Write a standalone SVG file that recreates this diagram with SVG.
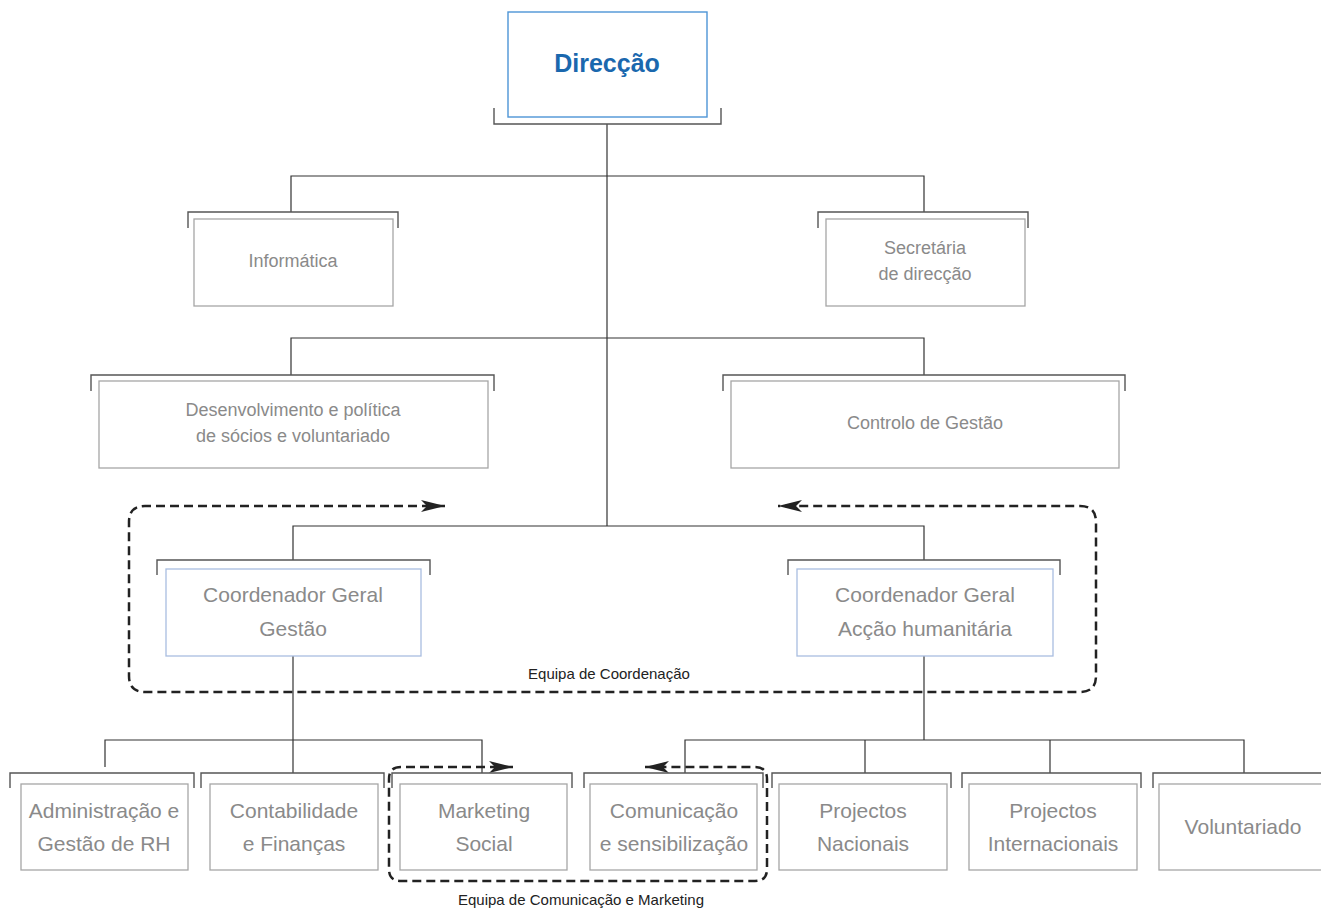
<svg xmlns="http://www.w3.org/2000/svg" width="1321" height="911" viewBox="0 0 1321 911">
<style>
.box{fill:#fff;stroke:#a6a6a6;stroke-width:1.3}
.cbox{fill:#fff;stroke:#a9bde0;stroke-width:1.3}
.br{fill:none;stroke:#555;stroke-width:1.4}
.ln{fill:none;stroke:#333;stroke-width:1.2}
.dash{fill:none;stroke:#222;stroke-width:2.5;stroke-dasharray:9 5}
text{font-family:"Liberation Sans",Arial,sans-serif;text-anchor:middle}
.t{fill:#8a8a8a;font-size:18px}
.tc{fill:#8a8a8a;font-size:21px}
.tb{fill:#8a8a8a;font-size:21px}
.lab{fill:#222;font-size:15px}
</style>
<defs>
<marker id="ah" markerUnits="userSpaceOnUse" markerWidth="26" markerHeight="14" refX="24" refY="6" orient="auto-start-reverse">
<path d="M0,0 L24,6 L0,12 L6,6 Z" fill="#222"/>
</marker>
</defs>
<g id="connectors">
<path class="ln" d="M607 124 V526"/>
<path class="ln" d="M291 212 V176 H924 V212"/>
<path class="ln" d="M291 375 V338 H924 V375"/>
<path class="ln" d="M293 560 V526 H924 V560"/>
<path class="ln" d="M293 656 V773"/>
<path class="ln" d="M105 767 V740 H482 V773"/>
<path class="ln" d="M924 656 V740"/>
<path class="ln" d="M685 773 V740 H1244 V773"/>
<path class="ln" d="M865 740 V773"/>
<path class="ln" d="M1050 740 V773"/>
<path class="dash" d="M445 506 H145 Q129 506 129 522 V676 Q129 692 145 692 H1080 Q1096 692 1096 676 V522 Q1096 506 1080 506 H778" marker-start="url(#ah)" marker-end="url(#ah)"/>
<path class="dash" d="M513 767 H401 Q389 767 389 779 V869 Q389 881 401 881 H755 Q767 881 767 869 V779 Q767 767 755 767 H645" marker-start="url(#ah)" marker-end="url(#ah)"/>
</g>
<g id="direccao">
<path class="br" d="M494 108 V124 H721 V108"/>
<rect x="508" y="12" width="199" height="105" fill="#fff" stroke="#4d95d6" stroke-width="1.4"/>
<text x="607" y="72" font-size="25" font-weight="bold" fill="#1a68ae">Direcção</text>
</g>
<g id="informatica">
<path class="br" d="M188 228 V212 H398 V228"/>
<rect class="box" x="194" y="219" width="199" height="87"/>
<text class="t" x="293" y="267">Informática</text>
</g>
<g id="secretaria">
<path class="br" d="M818 228 V212 H1028 V228"/>
<rect class="box" x="826" y="219" width="199" height="87"/>
<text class="t" x="925" y="254">Secretária</text>
<text class="t" x="925" y="280">de direcção</text>
</g>
<g id="desenvolvimento">
<path class="br" d="M91 391 V375 H494 V391"/>
<rect class="box" x="99" y="381" width="389" height="87"/>
<text class="t" x="293" y="416">Desenvolvimento e política</text>
<text class="t" x="293" y="442">de sócios e voluntariado</text>
</g>
<g id="controlo">
<path class="br" d="M723 391 V375 H1125 V391"/>
<rect class="box" x="731" y="381" width="388" height="87"/>
<text class="t" x="925" y="429">Controlo de Gestão</text>
</g>
<g id="coord-gestao">
<path class="br" d="M157 575 V560 H430 V575"/>
<rect class="cbox" x="166" y="569" width="255" height="87"/>
<text class="tc" x="293" y="602">Coordenador Geral</text>
<text class="tc" x="293" y="636">Gestão</text>
</g>
<g id="coord-accao">
<path class="br" d="M788 575 V560 H1060 V575"/>
<rect class="cbox" x="797" y="569" width="256" height="87"/>
<text class="tc" x="925" y="602">Coordenador Geral</text>
<text class="tc" x="925" y="636">Acção humanitária</text>
</g>
<g id="admin">
<path class="br" d="M10 788 V773 H194 V788"/>
<rect class="box" x="21" y="784" width="167" height="86"/>
<text class="tb" x="104" y="818">Administração e</text>
<text class="tb" x="104" y="851">Gestão de RH</text>
</g>
<g id="contabilidade">
<path class="br" d="M201 788 V773 H384 V788"/>
<rect class="box" x="210" y="784" width="168" height="86"/>
<text class="tb" x="294" y="818">Contabilidade</text>
<text class="tb" x="294" y="851">e Finanças</text>
</g>
<g id="marketing">
<path class="br" d="M392 788 V773 H572 V788"/>
<rect class="box" x="400" y="784" width="167" height="86"/>
<text class="tb" x="484" y="818">Marketing</text>
<text class="tb" x="484" y="851">Social</text>
</g>
<g id="comunicacao">
<path class="br" d="M584 788 V773 H763 V788"/>
<rect class="box" x="590" y="784" width="167" height="86"/>
<text class="tb" x="674" y="818">Comunicação</text>
<text class="tb" x="674" y="851">e sensibilização</text>
</g>
<g id="projectos-nacionais">
<path class="br" d="M772 788 V773 H951 V788"/>
<rect class="box" x="779" y="784" width="168" height="86"/>
<text class="tb" x="863" y="818">Projectos</text>
<text class="tb" x="863" y="851">Nacionais</text>
</g>
<g id="projectos-internacionais">
<path class="br" d="M962 788 V773 H1141 V788"/>
<rect class="box" x="969" y="784" width="168" height="86"/>
<text class="tb" x="1053" y="818">Projectos</text>
<text class="tb" x="1053" y="851">Internacionais</text>
</g>
<g id="voluntariado">
<path class="br" d="M1153 788 V773 H1330"/>
<rect class="box" x="1159" y="784" width="175" height="86"/>
<text class="tb" x="1243" y="834">Voluntariado</text>
</g>
<g id="labels">
<text class="lab" x="609" y="679">Equipa de Coordenação</text>
<text class="lab" x="581" y="905">Equipa de Comunicação e Marketing</text>
</g>
</svg>
